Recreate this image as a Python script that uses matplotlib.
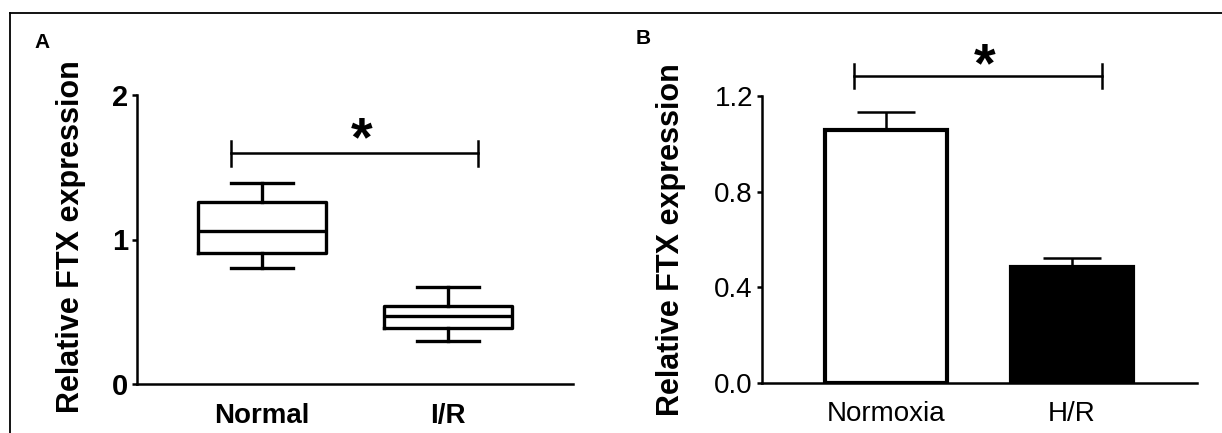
import matplotlib
matplotlib.use("Agg")
import matplotlib.pyplot as plt
from matplotlib.lines import Line2D

plt.rcParams["font.family"] = ["Liberation Sans", "DejaVu Sans"]

# panel A: box plot summary
groups_a = ["Normal", "I/R"]
q1_a = [0.91, 0.39]
med_a = [1.06, 0.47]
q3_a = [1.26, 0.54]
whislo_a = [0.80, 0.30]
whishi_a = [1.39, 0.67]

# panel B: bar means and SEM
groups_b = ["Normoxia", "H/R"]
mean_b = [1.056, 0.484]
sem_b = [0.079, 0.038]

# significance brackets: (x start, x end, y)
sig_a = (-0.167, 1.161, 1.60)
sig_b = (-0.172, 1.161, 1.283)

fig = plt.figure(figsize=(12.22, 4.33), dpi=100)

# frame lines from the original figure crop
fig.add_artist(Line2D([10 / 1222, 1.0], [1 - 13 / 433, 1 - 13 / 433], color="black", lw=1.3))
fig.add_artist(Line2D([10 / 1222, 10 / 1222], [0.0, 1 - 13 / 433], color="black", lw=1.3))

axA = fig.add_axes([137 / 1222, 49 / 433, 436 / 1222, 289 / 433])
axB = fig.add_axes([762 / 1222, 50 / 433, 435 / 1222, 287 / 433])

for ax in (axA, axB):
    for s in ("top", "right"):
        ax.spines[s].set_visible(False)
    for s in ("left", "bottom"):
        ax.spines[s].set_linewidth(1.8)
    ax.tick_params(axis="y", width=1.8, length=3.5, pad=3)
    ax.tick_params(axis="x", length=0)

# ---- panel A ----
stats = []
for i, g in enumerate(groups_a):
    stats.append(dict(label=g, med=med_a[i], q1=q1_a[i], q3=q3_a[i],
                      whislo=whislo_a[i], whishi=whishi_a[i], fliers=[]))
lw = 2.4
axA.bxp(stats, positions=[0, 1], widths=0.683, capwidths=0.33, showfliers=False,
        boxprops=dict(lw=lw, color="black"),
        medianprops=dict(lw=lw, color="black"),
        whiskerprops=dict(lw=lw, color="black"),
        capprops=dict(lw=lw, color="black"),
        manage_ticks=False)
axA.set_xlim(-0.672, 1.672)
axA.set_ylim(0, 2)
axA.set_yticks([0, 1, 2])
axA.set_yticklabels(["0", "1", "2"], fontsize=21, fontweight="bold")
axA.set_xticks([0, 1])
axA.set_xticklabels(groups_a, fontsize=20, fontweight="bold")
axA.tick_params(axis="x", pad=14)
axA.set_ylabel("Relative FTX expression", fontsize=22, fontweight="bold")
axA.yaxis.set_label_coords(-0.117, 0.51)

x0, x1, y = sig_a
axA.plot([x0, x1], [y, y], color="black", lw=1.8, clip_on=False)
for xx in (x0, x1):
    axA.plot([xx, xx], [y - 0.09, y + 0.08], color="black", lw=1.8, clip_on=False)
axA.text(0.538, 1.58, "*", ha="center", va="baseline", fontsize=40,
         fontweight="bold", clip_on=False)

# ---- panel B ----
axB.bar([0, 1], mean_b, width=0.66, color=["white", "black"], edgecolor="black",
        linewidth=3, zorder=2)
axB.errorbar([0, 1], mean_b, yerr=[[0, 0], sem_b], fmt="none", ecolor="black",
             elinewidth=1.8, capsize=21, capthick=1.8, zorder=1)
axB.set_xlim(-0.667, 1.672)
axB.set_ylim(0, 1.2)
axB.set_yticks([0, 0.4, 0.8, 1.2])
axB.set_yticklabels(["0.0", "0.4", "0.8", "1.2"], fontsize=20)
axB.set_xticks([0, 1])
axB.set_xticklabels(groups_b, fontsize=20)
axB.tick_params(axis="x", pad=13)
axB.set_ylabel("Relative FTX expression", fontsize=22, fontweight="bold")
axB.yaxis.set_label_coords(-0.175, 0.5)

x0, x1, y = sig_b
axB.plot([x0, x1], [y, y], color="black", lw=1.8, clip_on=False)
for xx in (x0, x1):
    axB.plot([xx, xx], [y - 0.05, y + 0.05], color="black", lw=1.8, clip_on=False)
axB.text(0.53, 1.263, "*", ha="center", va="baseline", fontsize=40,
         fontweight="bold", clip_on=False)

fig.text(42 / 1222, 1 - 42 / 433, "A", fontsize=15, fontweight="bold", ha="center", va="center")
fig.text(643 / 1222, 1 - 38 / 433, "B", fontsize=15, fontweight="bold", ha="center", va="center")

fig.savefig("out.png", dpi=100)
